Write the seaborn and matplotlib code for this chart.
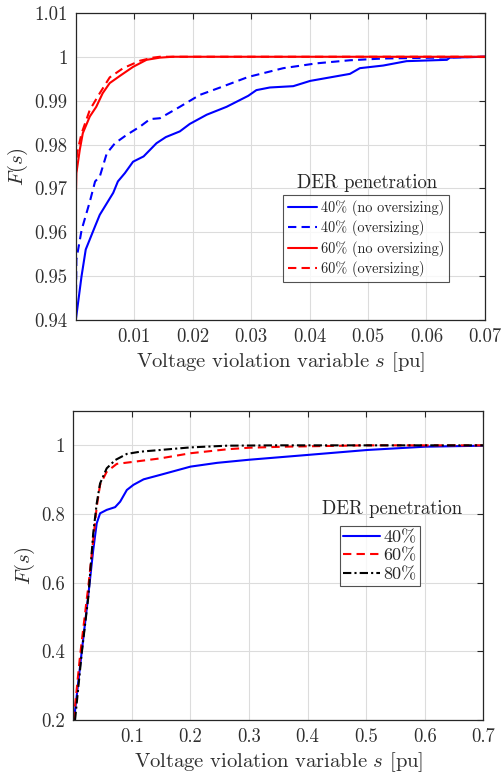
import numpy as np
import pandas as pd
import matplotlib
matplotlib.use("Agg")
import matplotlib.pyplot as plt
import seaborn as sns
from matplotlib.ticker import FuncFormatter

sns.set_style("white")
plt.rcParams['font.family'] = 'serif'
plt.rcParams['font.serif'] = ['cmr10', 'DejaVu Serif']
plt.rcParams['mathtext.fontset'] = 'cm'
plt.rcParams['axes.formatter.use_mathtext'] = True
plt.rcParams['axes.unicode_minus'] = False

# ---- top panel data (40% / 60%, with and without oversizing)
s40_no = [0, 0.00098, 0.0017, 0.0033, 0.0041, 0.0064, 0.0072, 0.0084, 0.0098, 0.0116,
          0.0138, 0.0154, 0.0178, 0.0195, 0.0224, 0.0258, 0.0295, 0.0309, 0.0332, 0.0372,
          0.0401, 0.0435, 0.0469, 0.0486, 0.0526, 0.0566, 0.0635, 0.064, 0.07]
F40_no = [0.94, 0.95, 0.9561, 0.9614, 0.964, 0.969, 0.9716, 0.9735, 0.9761, 0.9773,
          0.9803, 0.9817, 0.983, 0.9847, 0.9868, 0.9886, 0.9911, 0.9924, 0.993, 0.9933,
          0.9945, 0.9953, 0.9961, 0.9974, 0.998, 0.999, 0.9993, 0.9998, 1.0]
s40_ov = [0, 0.0001, 0.001, 0.0024, 0.0033, 0.0041, 0.0053, 0.0067, 0.0087, 0.011,
          0.0127, 0.0144, 0.0178, 0.0212, 0.0247, 0.0295, 0.0355, 0.0412, 0.0469, 0.0526,
          0.0618, 0.07]
F40_ov = [0.94, 0.9538, 0.9606, 0.967, 0.9716, 0.9727, 0.978, 0.9803, 0.9822, 0.9841,
          0.9858, 0.986, 0.9886, 0.9913, 0.993, 0.9954, 0.9974, 0.9985, 0.9992, 0.9996,
          0.9998, 1.0]
s60_no = [0, 0, 0.0001, 0.00068, 0.0012, 0.0024, 0.0035, 0.0046, 0.0058, 0.0075,
          0.0098, 0.0121, 0.0144, 0.0166, 0.07]
F60_no = [0.94, 0.9674, 0.9735, 0.9788, 0.9826, 0.9864, 0.9886, 0.9917, 0.994, 0.9956,
          0.9977, 0.9993, 0.9998, 1.0, 1.0]
s60_ov = [0, 0, 0.0002, 0.001, 0.0024, 0.0041, 0.0058, 0.0081, 0.011, 0.0132,
          0.0144, 0.07]
F60_ov = [0.94, 0.972, 0.978, 0.9826, 0.9879, 0.9917, 0.9953, 0.9974, 0.9991, 0.9998,
          1.0, 1.0]

# ---- bottom panel data (40% / 60% / 80%)
s40 = [0.0012, 0.0144, 0.0257, 0.034, 0.04, 0.0457, 0.057, 0.0714, 0.08, 0.0914,
       0.1027, 0.12, 0.1485, 0.2, 0.2455, 0.2997, 0.3996, 0.502, 0.6, 0.7]
F40 = [0.2, 0.399, 0.565, 0.695, 0.773, 0.802, 0.812, 0.82, 0.836, 0.87,
       0.885, 0.901, 0.914, 0.938, 0.949, 0.958, 0.972, 0.9865, 0.996, 0.999]
s60 = [0.0006, 0.0114, 0.0228, 0.0257, 0.034, 0.04, 0.0457, 0.057, 0.0742, 0.1027,
       0.1485, 0.2, 0.2627, 0.2997, 0.3596, 0.5, 0.7]
F60 = [0.2, 0.385, 0.55, 0.589, 0.7245, 0.821, 0.885, 0.923, 0.946, 0.952,
       0.962, 0.977, 0.9885, 0.993, 0.996, 1.0, 1.0]
s80 = [0.003, 0.0144, 0.0257, 0.034, 0.04, 0.0457, 0.057, 0.0714, 0.0914, 0.1142,
       0.1485, 0.2, 0.2627, 0.35, 0.7]
F80 = [0.2, 0.395, 0.559, 0.744, 0.831, 0.889, 0.933, 0.957, 0.975, 0.9815,
       0.9865, 0.994, 0.999, 1.0, 1.0]

top_ticks_x = [0.01, 0.02, 0.03, 0.04, 0.05, 0.06, 0.07]
top_ticks_y = [0.94, 0.95, 0.96, 0.97, 0.98, 0.99, 1.0, 1.01]
bot_ticks_x = [0.1, 0.2, 0.3, 0.4, 0.5, 0.6, 0.7]
bot_ticks_y = [0.2, 0.4, 0.6, 0.8, 1.0]

fig = plt.figure(figsize=(5.02, 7.79), dpi=100)
ax1 = fig.add_axes([0.151, 0.589, 0.815, 0.3945])
ax2 = fig.add_axes([0.146, 0.0757, 0.817, 0.3967])

lw = 1.5
kw = dict(estimator=None, sort=False, linewidth=lw)
sns.lineplot(x=s40_no, y=F40_no, color='#0000ff', ax=ax1, label='40% (no oversizing)', **kw)
sns.lineplot(x=s40_ov, y=F40_ov, color='#0000ff', ax=ax1, label='40% (oversizing)', **kw)
sns.lineplot(x=s60_no, y=F60_no, color='#ff0000', ax=ax1, label='60% (no oversizing)', **kw)
sns.lineplot(x=s60_ov, y=F60_ov, color='#ff0000', ax=ax1, label='60% (oversizing)', **kw)
ax1.lines[1].set_dashes([4, 2.5])
ax1.lines[3].set_dashes([4, 2.5])

sns.lineplot(x=s40, y=F40, color='#0000ff', ax=ax2, label='40%', **kw)
sns.lineplot(x=s60, y=F60, color='#ff0000', ax=ax2, label='60%', **kw)
sns.lineplot(x=s80, y=F80, color='#000000', ax=ax2, label='80%', **kw)
ax2.lines[1].set_dashes([4, 2.5])
ax2.lines[2].set_dashes([4, 1.5, 1, 1.5])

fmt = FuncFormatter(lambda v, p: '%g' % round(v, 4))
for ax, xl, yl, xt, yt in [(ax1, (0, 0.07), (0.94, 1.01), top_ticks_x, top_ticks_y),
                           (ax2, (0, 0.7), (0.2, 1.1), bot_ticks_x, bot_ticks_y)]:
    ax.set_xlim(*xl)
    ax.set_ylim(*yl)
    ax.set_xticks(xt)
    ax.set_yticks(yt)
    ax.xaxis.set_major_formatter(fmt)
    ax.yaxis.set_major_formatter(fmt)
    ax.grid(True, color='#dcdcdc', linewidth=0.8)
    ax.set_axisbelow(True)
    for sp in ax.spines.values():
        sp.set_visible(True)
        sp.set_color('#262626')
        sp.set_linewidth(0.9)
    ax.tick_params(direction='in', length=4, width=0.8, top=True, right=True,
                   labelsize=13.5, colors='#262626', labelcolor='#303030', pad=6)
    ax.set_xlabel('Voltage violation variable $s$ [pu]', fontsize=14.8, color='#303030',
                  labelpad=3)
    ax.set_ylabel('$F(s)$', fontsize=14.8, color='#303030', labelpad=3)

leg1 = ax1.legend(loc='upper left', bbox_to_anchor=(0.5637, 0.7497),
                  bbox_transform=fig.transFigure, fontsize=10.3, frameon=True,
                  fancybox=False, edgecolor='#262626', handlelength=2.0,
                  handletextpad=0.3, borderpad=0.35, labelspacing=0.3, borderaxespad=0)
leg1.get_frame().set_linewidth(0.8)
fig.text(0.7315, 0.765, 'DER penetration', ha='center', va='center', fontsize=13.5,
         color='#262626')

leg2 = ax2.legend(loc='upper left', bbox_to_anchor=(0.677, 0.3248),
                  bbox_transform=fig.transFigure, fontsize=13, frameon=True,
                  fancybox=False, edgecolor='#262626', handlelength=2.0,
                  handletextpad=0.2, borderpad=0.2, labelspacing=0.15, borderaxespad=0)
leg2.get_frame().set_linewidth(0.8)
fig.text(0.7815, 0.3466, 'DER penetration', ha='center', va='center', fontsize=13.5,
         color='#262626')

fig.savefig('out.png', dpi=100)
